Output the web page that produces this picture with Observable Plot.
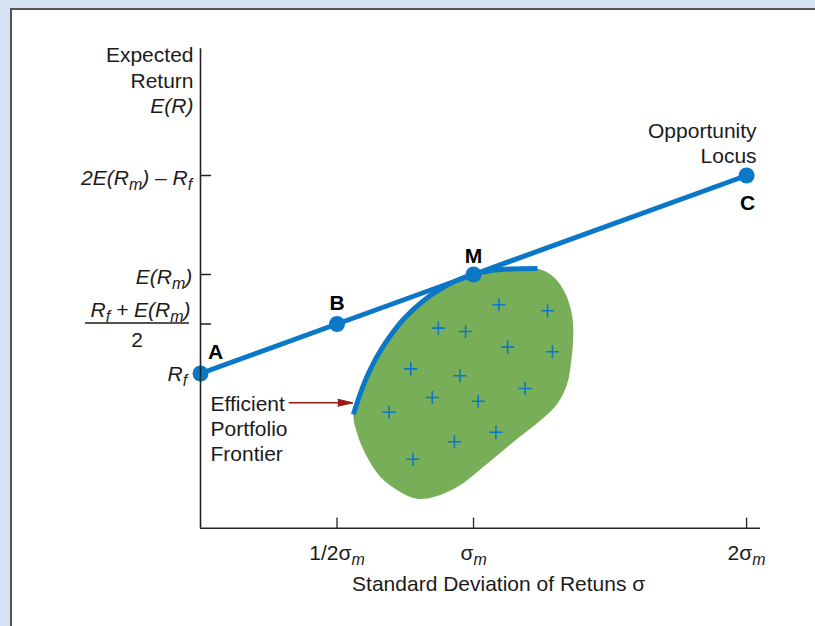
<!DOCTYPE html>
<html><head><meta charset="utf-8">
<script src="https://cdn.jsdelivr.net/npm/d3@7"></script>
<script src="https://cdn.jsdelivr.net/npm/@observablehq/plot@0.6"></script>
<style>
html,body{margin:0;padding:0;width:815px;height:626px;overflow:hidden;background:#d5e2f3;}
#panel{position:absolute;left:10px;top:8px;right:0;bottom:0;background:#fff;border-left:2px solid #555;border-top:2px solid #555;}
#chart{position:absolute;left:0;top:0;}
</style></head><body><div id="panel"></div><div id="chart"></div>
<script>
// ---- data (σ in units of σm, return in units of E(Rm) − Rf above Rf) ----
const pointLabels = ["A", "B", "M", "C"];
const pointSigma  = [0, 0.5, 1, 2];
const pointReturn = [0, 0.5, 1, 2];

const frontierSigma  = [0.560, 0.579, 0.604, 0.637, 0.678, 0.725, 0.777, 0.832, 0.886, 0.945, 1.000, 1.062, 1.136, 1.234];
const frontierReturn = [-0.414, -0.253, -0.069, 0.122, 0.311, 0.489, 0.640, 0.768, 0.866, 0.947, 1.000, 1.038, 1.055, 1.060];

const regionSigma  = [1.294, 1.337, 1.362, 1.365, 1.358, 1.343, 1.307, 1.245, 1.160, 1.050, 0.940, 0.855, 0.794, 0.733, 0.659, 0.604, 0.574];
const regionReturn = [0.973, 0.805, 0.569, 0.367, 0.131, -0.104, -0.306, -0.475, -0.660, -0.912, -1.148, -1.249, -1.266, -1.199, -1.047, -0.811, -0.609];

const assetSigma  = [1.093, 1.271, 0.871, 0.971, 1.125, 1.289, 0.770, 0.950, 1.189, 0.849, 1.017, 0.691, 1.082, 0.930, 0.778];
const assetReturn = [0.694, 0.633, 0.458, 0.424, 0.266, 0.219, 0.047, -0.023, -0.152, -0.242, -0.280, -0.391, -0.593, -0.690, -0.866];

const xTickValues = [0.5, 1, 2];
const xTickLabels = ["1/2σ_m", "σ_m", "2σ_m"];
const yTickValues = [2, 1, 0.5];
const yTickLabels = ["2E(R_m) – R_f", "E(R_m)", "R_f + E(R_m)"];
const yFractionDenominator = "2";
const yZeroLabel = "R_f";
const yTitleLines = ["Expected", "Return", "E(R)"];
const xTitle = "Standard Deviation of Retuns σ";
const xTitleSigma = 1.092;
const locusLines = ["Opportunity", "Locus"];
const frontierLines = ["Efficient", "Portfolio", "Frontier"];
const frontierArrowSigma = [0.323, 0.558];
const frontierArrowReturn = [-0.296, -0.296];

// ---- build tables ----
const points = pointLabels.map((l, i) => ({label: l, s: pointSigma[i], r: pointReturn[i]}));
const frontier = frontierSigma.map((s, i) => ({s, r: frontierReturn[i]}));
const region = frontier.concat(regionSigma.map((s, i) => ({s, r: regionReturn[i]})));
const assets = assetSigma.map((s, i) => ({s, r: assetReturn[i]}));
const arrow = [{s1: frontierArrowSigma[0], r1: frontierArrowReturn[0], s2: frontierArrowSigma[1], r2: frontierArrowReturn[1]}];

const xDomain = [0, 2.051], yDomain = [-1.563, 3.28];
const BLUE = "#0b78c7", GREEN = "#78ae57", RED = "#9b1b1b", INK = "#1b1b1b", AXIS = "#222";
const FONT = "Liberation Sans, Arial, Helvetica, sans-serif";
const lineShape = {draw(ctx, l) { ctx.moveTo(0, 0); ctx.lineTo(0, -l); }};

const txt = (t, x, y, o = {}) => Plot.text([{t, x, y}], {x: "x", y: "y", text: "t", fontFamily: FONT, fontSize: 21, fill: INK, ...o});
const bold = {textAnchor: "middle", fontWeight: "bold", fontSize: 21, fill: "#000"};

const marks = [
  Plot.line(region, {x: "s", y: "r", curve: "catmull-rom-closed", fill: GREEN, stroke: "none"}),
  Plot.line(frontier, {x: "s", y: "r", curve: "monotone-x", stroke: BLUE, strokeWidth: 5, strokeLinecap: "butt"}),
  Plot.line(points, {x: "s", y: "r", stroke: BLUE, strokeWidth: 5}),
  Plot.dot(points, {x: "s", y: "r", r: 8, fill: BLUE}),
  Plot.dot(assets, {x: "s", y: "r", symbol: "plus", r: 4.3, stroke: BLUE, strokeWidth: 1.6}),
  // axes
  Plot.ruleX([0], {y1: yDomain[0], y2: yDomain[1], stroke: AXIS, strokeWidth: 1.6}),
  Plot.ruleY([yDomain[0]], {x1: 0, x2: xDomain[1], stroke: AXIS, strokeWidth: 1.6}),
  Plot.vector(xTickValues, {x: d => d, y: yDomain[0], length: 10, rotate: 0, anchor: "start", shape: lineShape, stroke: AXIS, strokeWidth: 1.3}),
  Plot.vector(yTickValues, {x: 0, y: d => d, length: 10, rotate: 90, anchor: "start", shape: lineShape, stroke: AXIS, strokeWidth: 1.3}),
  // fraction bar
  Plot.vector([yTickValues[2]], {x: 0, y: d => d, length: 103, rotate: -90, anchor: "start", dx: -12, dy: -1, shape: lineShape, stroke: INK, strokeWidth: 1.3}),
  // arrow to frontier
  Plot.link(arrow, {x1: "s1", y1: "r1", x2: "s2", y2: "r2", stroke: RED, strokeWidth: 1.4}),
  Plot.vector(arrow, {x: "s2", y: "r2", length: 15, r: 3.5, rotate: 90, anchor: "end", shape: "spike", fill: RED, stroke: RED, strokeWidth: 1}),
  // y title
  ...yTitleLines.map((t, i) => txt(t, 0, yDomain[1], {textAnchor: "end", dx: -7, dy: 6.7 + 25.5 * i, fontStyle: i === 2 ? "italic" : "normal"})),
  // y tick labels
  txt(yTickLabels[0], 0, yTickValues[0], {textAnchor: "end", dx: -8.3, dy: 2.5, fontStyle: "italic"}),
  txt(yTickLabels[1], 0, yTickValues[1], {textAnchor: "end", dx: -8.3, dy: 2.5, fontStyle: "italic"}),
  txt(yTickLabels[2], 0, yTickValues[2], {textAnchor: "end", dx: -10, dy: -13.5, fontStyle: "italic"}),
  txt(yFractionDenominator, 0, yTickValues[2], {textAnchor: "middle", dx: -63.3, dy: 16.5}),
  txt(yZeroLabel, 0, 0, {textAnchor: "end", dx: -13.3, dy: 0.3, fontStyle: "italic"}),
  // x tick labels + title
  ...xTickValues.map((v, i) => txt(xTickLabels[i], v, yDomain[0], {textAnchor: "middle", dy: 25})),
  txt(xTitle, xTitleSigma, yDomain[0], {textAnchor: "middle", dy: 56.3}),
  // point labels
  txt(pointLabels[0], pointSigma[0], pointReturn[0], {...bold, dx: 15, dy: -21}),
  txt(pointLabels[1], pointSigma[1], pointReturn[1], {...bold, dy: -21}),
  txt(pointLabels[2], pointSigma[2], pointReturn[2], {...bold, dy: -18}),
  txt(pointLabels[3], pointSigma[3], pointReturn[3], {...bold, dx: 1, dy: 28}),
  // annotations
  ...locusLines.map((t, i) => txt(t, pointSigma[3], pointReturn[3], {textAnchor: "end", dx: 10, dy: -44.4 + 25 * i})),
  ...frontierLines.map((t, i) => txt(t, 0, frontierArrowReturn[0], {textAnchor: "start", dx: 10, dy: 1.7 + 24.7 * i}))
];

const svg = Plot.plot({
  width: 815, height: 626,
  x: {domain: xDomain, range: [200, 760]},
  y: {domain: yDomain, range: [527.7, 48.3]},
  axis: null,
  style: {fontFamily: FONT, background: "transparent", overflow: "visible"},
  marks
});

// subscripts: "_x" → italic smaller lowered character
const NS = "http://www.w3.org/2000/svg";
svg.querySelectorAll("text").forEach(t => {
  const s = t.textContent;
  if (!s.includes("_")) return;
  const parts = s.split(/(_[A-Za-z])/).filter(p => p);
  t.textContent = "";
  for (const p of parts) {
    const ts = document.createElementNS(NS, "tspan");
    if (p[0] === "_") {
      ts.textContent = p.slice(1);
      ts.setAttribute("font-size", "76%");
      ts.setAttribute("font-style", "italic");
      ts.setAttribute("baseline-shift", "-5");
    } else ts.textContent = p;
    t.appendChild(ts);
  }
});
document.getElementById("chart").appendChild(svg);
</script></body></html>
